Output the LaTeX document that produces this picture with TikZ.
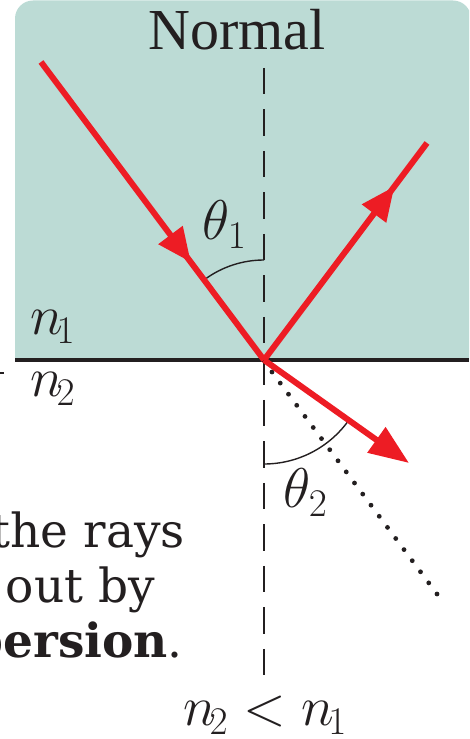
\RequirePackage{fix-cm}
\documentclass[tikz,border=0pt]{standalone}
\usepackage{fontspec}
\newfontfamily\dvs{DejaVu Serif}
\newfontfamily\lib{Liberation Serif}
\usetikzlibrary{arrows.meta,decorations.markings}
\definecolor{panelfill}{RGB}{188,219,213}
\definecolor{rayred}{RGB}{237,28,36}
\definecolor{ink}{RGB}{35,31,32}
\begin{document}
\begin{tikzpicture}[x=1pt,y=1pt,
  redray/.style={draw=rayred, line width=6pt},
  midarrow/.style={postaction={decorate, decoration={markings,
      mark=at position #1 with {\arrow[rayred]{Triangle[length=34pt,width=29pt]}}}}},
  normalline/.style={draw=ink, line width=1.8pt, dash pattern=on 26.5pt off 15pt},
  dotline/.style={draw=ink, line width=4.8pt, line cap=round, dash pattern=on 0pt off 13.83pt},
  anglearc/.style={draw=ink, line width=1.4pt},
  mathlbl/.style={inner sep=0pt, text=ink, font=\fontsize{56}{60}\selectfont},
  sidetext/.style={inner sep=0pt, anchor=base east, text=ink, font=\dvs\fontsize{47}{55}\selectfont}]
\useasboundingbox (0,0) rectangle (469,739);
\clip (0,0) rectangle (469,739);
% upper medium
\fill[panelfill] (15,379) -- (15,720.5) arc[start angle=180,end angle=90,radius=18]
  -- (453,738.5) arc[start angle=90,end angle=0,radius=18] -- (471,379) -- cycle;
% coordinates
\coordinate (O) at (264,379);
\coordinate (A) at (41,677);
\coordinate (R) at (427,596);
\coordinate (T) at (409,276);
\coordinate (NT) at (264,671);
\coordinate (NB) at (264,62);
\coordinate (DS) at (272,367);
\coordinate (DE) at (437,145);
\coordinate (IL) at (15,379);
\coordinate (IR) at (469,379);
\coordinate (ML) at (0,366);
\coordinate (MR) at (4,366);
% normal
\draw[normalline] (NT) -- (NB);
% dotted extension
\draw[dotline] (DS) -- (DE);
% interface
\draw[ink, line width=3.5pt] (IL) -- (IR);
\draw[ink, line width=1.5pt] (ML) -- (MR);
% angle arcs
\draw[anglearc] (O) ++(90:100) arc[start angle=90,end angle=126.8,radius=100];
\draw[anglearc] (O) ++(-90:104) arc[start angle=-90,end angle=-35.4,radius=104];
% rays
\draw[redray, midarrow=0.672] (A) -- (O);
\draw[redray, midarrow=0.80] (O) -- (R);
\draw[redray, -{Triangle[length=40pt,width=30pt]}] (O) -- (T);
% labels
\node[inner sep=0pt, anchor=base, text=ink, font=\lib\fontsize{58}{60}\selectfont] (normal) at (237,689) {Normal};
\node[mathlbl, anchor=base west] (th1) at (202,499) {$\theta_1$};
\node[mathlbl, anchor=base west] (th2) at (283,231) {$\theta_2$};
\node[mathlbl, anchor=base west] (n1) at (30,404) {$n\mkern-2mu_1$};
\node[mathlbl, anchor=base west] (n2) at (30,342) {$n\mkern-2mu_2$};
\node[mathlbl, anchor=base] (rel) at (265,13) {$n\mkern-2mu_2 < n\mkern-2mu_1$};
\node[sidetext] (t1) at (185,191) {the rays};
\node[sidetext] (t2) at (155,136) {out by};
\node[sidetext] (t3) at (183,81) {\textbf{persion}.};
\end{tikzpicture}
\end{document}
